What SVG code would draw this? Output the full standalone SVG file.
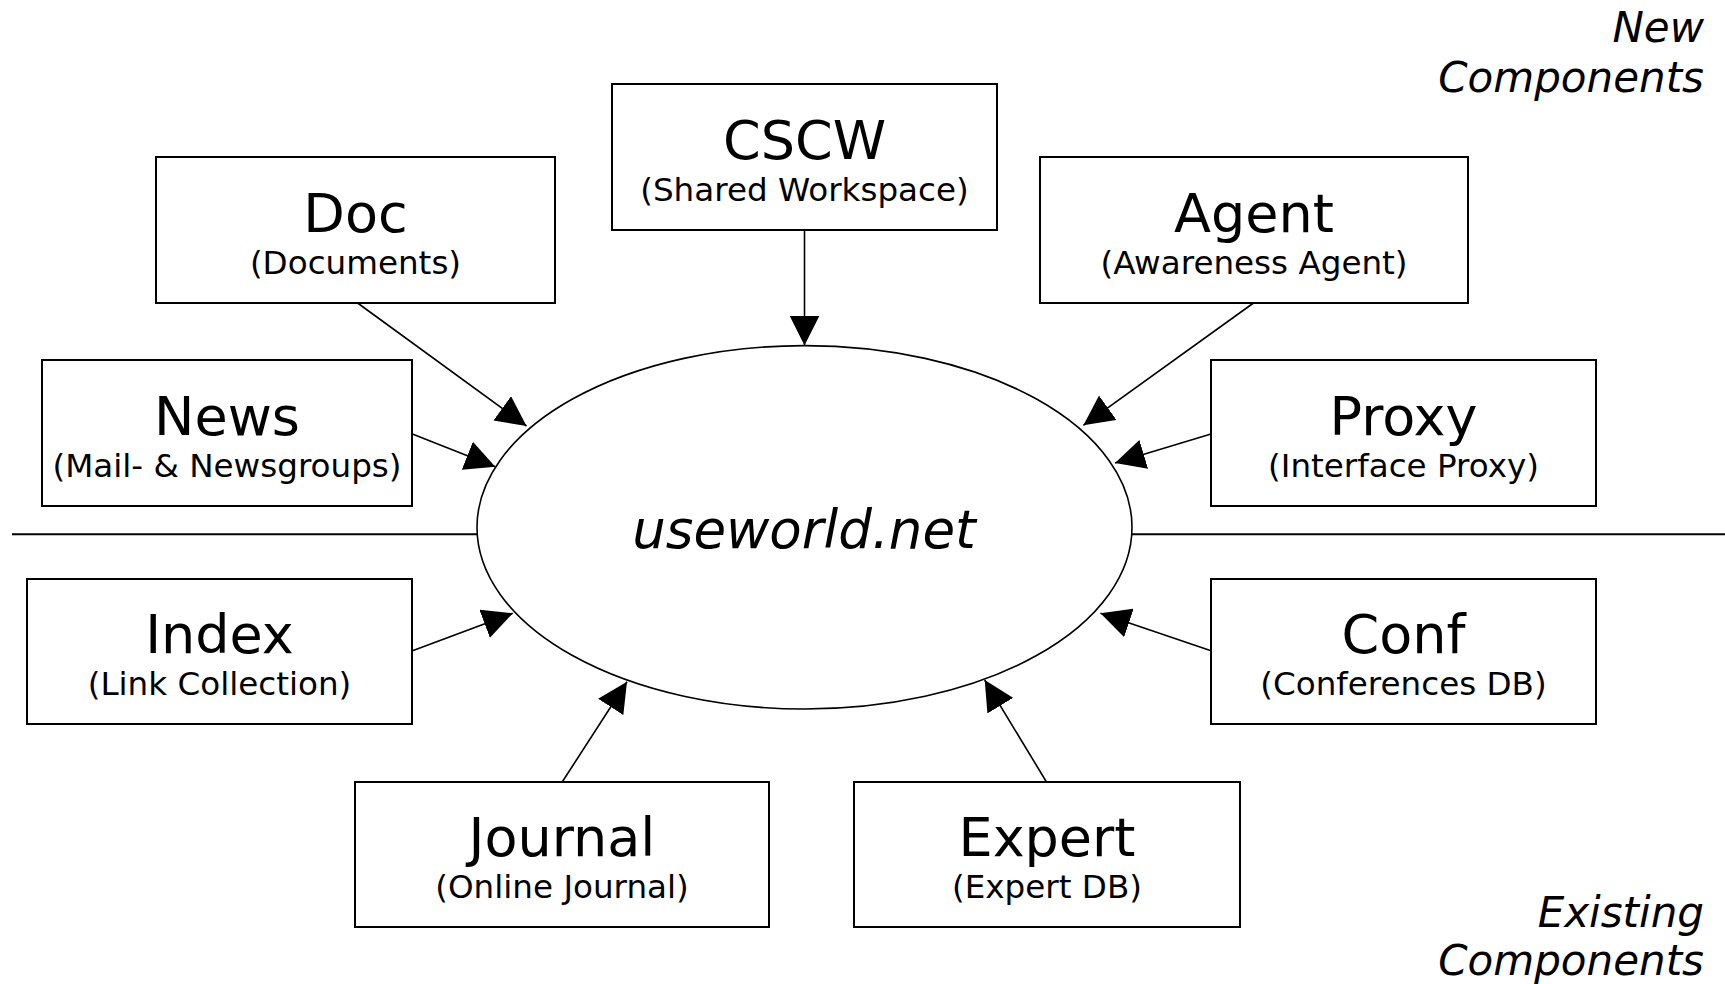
<svg xmlns="http://www.w3.org/2000/svg" width="1725" height="984" viewBox="0 0 1725 984">
<style>
.box{fill:#fff;stroke:#000;stroke-width:2}
.t{font-family:"DejaVu Sans",Verdana,sans-serif;font-size:54px;text-anchor:middle;fill:#000}
.s{font-family:"DejaVu Sans",Verdana,sans-serif;font-size:32.6px;text-anchor:middle;fill:#000}
.i{font-family:"DejaVu Sans",Verdana,sans-serif;font-style:italic;fill:#000}
.c{stroke:#000;stroke-width:1.6;fill:none;marker-end:url(#ah)}
.sep{stroke:#000;stroke-width:2}
</style>
<defs>
<marker id="ah" markerUnits="userSpaceOnUse" markerWidth="30" markerHeight="30" viewBox="0 0 28 28" refX="28" refY="14" orient="auto">
<path d="M0,0 L28,14 L0,28 z" fill="#000"/>
</marker>
</defs>
<rect width="1725" height="984" fill="#fff"/>
<g id="separator">
<line class="sep" x1="12" y1="534.3" x2="477" y2="534.3"/>
<line class="sep" x1="1132" y1="534.3" x2="1725" y2="534.3"/>
</g>
<g id="hub">
<ellipse cx="804.5" cy="527.3" rx="327.5" ry="181.7" fill="#fff" stroke="#000" stroke-width="1.6"/>
<text class="i" x="804" y="548" font-size="53" text-anchor="middle">useworld.net</text>
</g>
<g id="doc"><rect class="box" x="156" y="157" width="399" height="146"/><text class="t" x="355.5" y="232">Doc</text><text class="s" x="355.5" y="274">(Documents)</text></g>
<g id="cscw"><rect class="box" x="612" y="84" width="385" height="146"/><text class="t" x="804.5" y="159">CSCW</text><text class="s" x="804.5" y="201">(Shared Workspace)</text></g>
<g id="agent"><rect class="box" x="1040" y="157" width="428" height="146"/><text class="t" x="1254" y="232">Agent</text><text class="s" x="1254" y="274">(Awareness Agent)</text></g>
<g id="news"><rect class="box" x="42" y="360" width="370" height="146"/><text class="t" x="227" y="435">News</text><text class="s" x="227" y="477">(Mail- &amp; Newsgroups)</text></g>
<g id="proxy"><rect class="box" x="1211" y="360" width="385" height="146"/><text class="t" x="1403.5" y="435">Proxy</text><text class="s" x="1403.5" y="477">(Interface Proxy)</text></g>
<g id="index"><rect class="box" x="27" y="579" width="385" height="145"/><text class="t" x="219.5" y="653">Index</text><text class="s" x="219.5" y="695">(Link Collection)</text></g>
<g id="conf"><rect class="box" x="1211" y="579" width="385" height="145"/><text class="t" x="1403.5" y="653">Conf</text><text class="s" x="1403.5" y="695">(Conferences DB)</text></g>
<g id="journal"><rect class="box" x="355" y="782" width="414" height="145"/><text class="t" x="562" y="856">Journal</text><text class="s" x="562" y="898">(Online Journal)</text></g>
<g id="expert"><rect class="box" x="854" y="782" width="386" height="145"/><text class="t" x="1047" y="856">Expert</text><text class="s" x="1047" y="898">(Expert DB)</text></g>
<g id="connectors">
<line class="c" x1="804.5" y1="230" x2="804.5" y2="345.6"/>
<line class="c" x1="357.6" y1="303" x2="526.5" y2="426"/>
<line class="c" x1="412.4" y1="434" x2="495.3" y2="466.7"/>
<line class="c" x1="1253.5" y1="303" x2="1083.4" y2="425.3"/>
<line class="c" x1="1211" y1="434" x2="1115" y2="463"/>
<line class="c" x1="412.5" y1="650.7" x2="512.8" y2="613.3"/>
<line class="c" x1="1211" y1="650.7" x2="1100.5" y2="613.3"/>
<line class="c" x1="562.2" y1="782" x2="627" y2="681.7"/>
<line class="c" x1="1046.5" y1="782" x2="984.7" y2="680"/>
</g>
<g id="labels">
<text class="i" font-size="42" text-anchor="end"><tspan x="1704" y="41.7">New</tspan><tspan x="1704" y="91.7">Components</tspan></text>
<text class="i" font-size="42" text-anchor="end"><tspan x="1704" y="926.7">Existing</tspan><tspan x="1704" y="975">Components</tspan></text>
</g>
</svg>
